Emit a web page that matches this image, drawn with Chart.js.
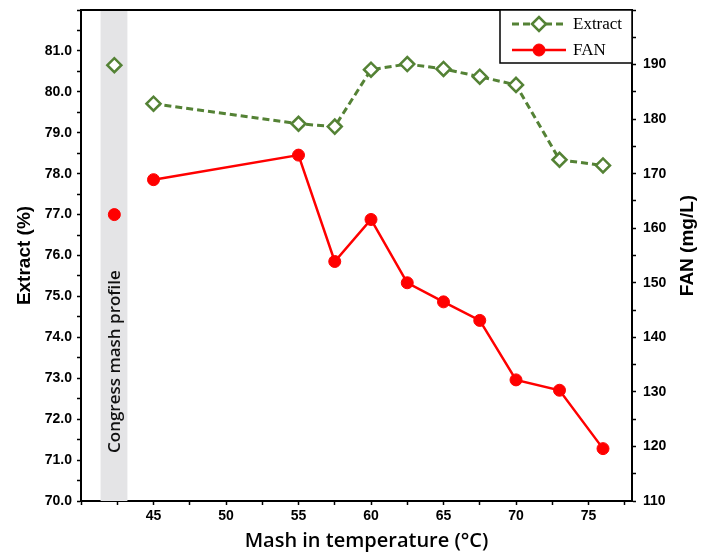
<!DOCTYPE html>
<html>
<head>
<meta charset="utf-8">
<script src="https://cdn.jsdelivr.net/npm/chart.js@4.4.0/dist/chart.umd.min.js"></script>
<style>
  html, body { margin: 0; padding: 0; background: #fff; }
  #wrap { width: 709px; height: 556px; }
</style>
</head>
<body>
<div id="wrap"><canvas id="chart" width="709" height="556"></canvas></div>
<script>
// ---- data ----
const temperatures = [45, 55, 57.5, 60, 62.5, 65, 67.5, 70, 73, 76];
const extractValues = [79.71, 79.22, 79.15, 80.54, 80.68, 80.56, 80.37, 80.17, 78.34, 78.2];
const fanValues = [168.9, 173.4, 153.9, 161.6, 150.0, 146.5, 143.1, 132.2, 130.3, 119.6];

// congress mash reference (shown apart from the series)
const congressTemp = 42.3;
const congressExtract = 80.65;
const congressFan = 162.5;
const congressBand = [41.35, 43.2];
const congressLabel = 'Congress mash profile';

// tick labels
const xTickLabels = [45, 50, 55, 60, 65, 70, 75];
const extractTickLabels = [70, 71, 72, 73, 74, 75, 76, 77, 78, 79, 80, 81];
const fanTickLabels = [110, 120, 130, 140, 150, 160, 170, 180, 190];

const GREEN = '#548235';
const RED = '#ff0000';
const tickFont = { family: '"Liberation Sans", Arial, sans-serif', size: 14, weight: 'bold' };

function pairs(xs, ys) {
  return xs.map((x, i) => ({ x: x, y: ys[i] }));
}
function isLabel(list, v) {
  return list.some(t => Math.abs(t - v) < 1e-6);
}
// keep the plot box where the figure has it
function noPad(s) {
  s.paddingTop = 0;
  s.paddingBottom = 0;
  s.paddingLeft = 0;
  s.paddingRight = 0;
}

// grey band + its vertical caption, behind the data
const bandPlugin = {
  id: 'band',
  beforeDatasetsDraw(chart) {
    const { ctx, chartArea } = chart;
    const x = chart.scales.x;
    const x0 = x.getPixelForValue(congressBand[0]);
    const x1 = x.getPixelForValue(congressBand[1]);
    ctx.save();
    ctx.fillStyle = '#e4e4e6';
    ctx.fillRect(x0, chartArea.top, x1 - x0, chartArea.bottom - chartArea.top);
    ctx.translate((x0 + x1) / 2, chartArea.bottom - 48);
    ctx.rotate(-Math.PI / 2);
    ctx.fillStyle = '#111';
    ctx.font = '600 17px "Open Sans", sans-serif';
    ctx.textAlign = 'left';
    ctx.textBaseline = 'middle';
    ctx.fillText(congressLabel, 0, 1);
    ctx.restore();
  }
};

// frame top line, axis titles, boxed legend
const decorPlugin = {
  id: 'decor',
  afterDraw(chart) {
    const { ctx, chartArea } = chart;
    ctx.save();
    ctx.strokeStyle = '#000';
    ctx.lineWidth = 2;
    ctx.beginPath();
    ctx.moveTo(chartArea.left, chartArea.top);
    ctx.lineTo(chartArea.right, chartArea.top);
    ctx.stroke();

    // x axis title
    ctx.fillStyle = '#000';
    ctx.font = '600 20px "Open Sans", sans-serif';
    ctx.textAlign = 'center';
    ctx.textBaseline = 'middle';
    ctx.fillText('Mash in temperature (°C)', (chartArea.left + chartArea.right) / 2 + 10, 541);

    // right axis title, reading bottom to top
    ctx.translate(688, (chartArea.top + chartArea.bottom) / 2 - 10);
    ctx.rotate(-Math.PI / 2);
    ctx.font = 'bold 19px "Liberation Sans", Arial, sans-serif';
    ctx.fillText('FAN (mg/L)', 0, 0);
    ctx.restore();

    // legend box
    const bx = 500, by = chartArea.top, bw = chartArea.right - 500, bh = 53;
    ctx.save();
    ctx.fillStyle = '#fff';
    ctx.fillRect(bx, by, bw, bh);
    ctx.strokeStyle = '#000';
    ctx.lineWidth = 1.5;
    ctx.strokeRect(bx, by, bw, bh);
    const items = [chart.data.datasets[0], chart.data.datasets[1]];
    items.forEach((ds, i) => {
      const y = by + 14 + i * 26;
      ctx.save();
      ctx.strokeStyle = ds.borderColor;
      ctx.lineWidth = ds.borderWidth;
      ctx.setLineDash(ds.borderDash || []);
      ctx.beginPath();
      ctx.moveTo(512, y);
      ctx.lineTo(566, y);
      ctx.stroke();
      ctx.setLineDash([]);
      ctx.fillStyle = ds.pointBackgroundColor;
      ctx.strokeStyle = ds.borderColor;
      ctx.lineWidth = ds.pointBorderWidth;
      Chart.helpers.drawPoint(ctx, { pointStyle: ds.pointStyle, radius: ds.pointRadius, borderWidth: ds.pointBorderWidth, rotation: 0 }, 539, y);
      ctx.restore();
      ctx.fillStyle = '#000';
      ctx.font = '17px "Liberation Serif", "Times New Roman", serif';
      ctx.textAlign = 'left';
      ctx.textBaseline = 'middle';
      ctx.fillText(ds.label, 573, y + 1);
    });
    ctx.restore();
  }
};

const extractStyle = {
  borderColor: GREEN,
  borderWidth: 3,
  borderDash: [7, 4],
  pointStyle: 'rectRot',
  pointRadius: 7,
  pointBorderWidth: 2.5,
  pointBackgroundColor: '#fff',
  pointBorderColor: GREEN
};
const fanStyle = {
  borderColor: RED,
  borderWidth: 2.5,
  pointStyle: 'circle',
  pointRadius: 6,
  pointBorderWidth: 1,
  pointBackgroundColor: RED,
  pointBorderColor: RED
};

const ctx = document.getElementById('chart').getContext('2d');
const chart = new Chart(ctx, {
  type: 'line',
  data: {
    datasets: [
      Object.assign({ label: 'Extract', data: pairs(temperatures, extractValues), yAxisID: 'y' }, extractStyle),
      Object.assign({ label: 'FAN', data: pairs(temperatures, fanValues), yAxisID: 'y1' }, fanStyle),
      Object.assign({ label: 'Extract (congress)', data: [{ x: congressTemp, y: congressExtract }], yAxisID: 'y', showLine: false }, extractStyle),
      Object.assign({ label: 'FAN (congress)', data: [{ x: congressTemp, y: congressFan }], yAxisID: 'y1', showLine: false }, fanStyle)
    ]
  },
  options: {
    responsive: false,
    animation: false,
    devicePixelRatio: 1,
    layout: { padding: { top: 10, left: 0, right: 0, bottom: 0 } },
    plugins: {
      legend: { display: false },
      tooltip: { enabled: false }
    },
    scales: {
      x: {
        type: 'linear',
        min: 40,
        max: 78,
        afterFit(s) { s.height = 55; noPad(s); },
        border: { color: '#000', width: 2 },
        grid: { drawOnChartArea: false, tickLength: 4, tickColor: '#000', tickWidth: 1.5 },
        ticks: {
          stepSize: 2.5,
          includeBounds: false,
          autoSkip: false,
          maxRotation: 0,
          padding: 3,
          color: '#000',
          font: tickFont,
          callback: v => isLabel(xTickLabels, v) ? String(v) : ''
        }
      },
      y: {
        position: 'left',
        min: 70,
        max: 82,
        afterFit(s) { s.width = 81; noPad(s); },
        border: { color: '#000', width: 2 },
        grid: { drawOnChartArea: false, tickLength: 4, tickColor: '#000', tickWidth: 1.5 },
        ticks: {
          stepSize: 0.5,
          autoSkip: false,
          padding: 5,
          color: '#000',
          font: tickFont,
          callback: v => isLabel(extractTickLabels, v) ? v.toFixed(1) : ''
        },
        title: {
          display: true,
          text: 'Extract (%)',
          color: '#000',
          font: { family: '"Liberation Sans", Arial, sans-serif', size: 19, weight: 'bold' },
          padding: { top: 13, bottom: 0 }
        }
      },
      y1: {
        position: 'right',
        min: 110,
        max: 200,
        afterFit(s) { s.width = 77; noPad(s); },
        border: { color: '#000', width: 2 },
        grid: { drawOnChartArea: false, tickLength: 4, tickColor: '#000', tickWidth: 1.5 },
        ticks: {
          stepSize: 5,
          autoSkip: false,
          padding: 7,
          color: '#000',
          font: tickFont,
          callback: v => isLabel(fanTickLabels, v) ? String(v) : ''
        }
      }
    }
  },
  plugins: [bandPlugin, decorPlugin]
});
</script>
</body>
</html>
